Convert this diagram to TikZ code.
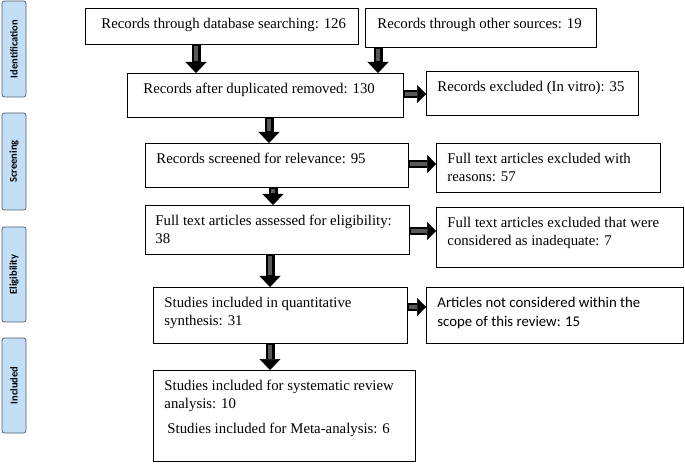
\documentclass[tikz,border=0pt]{standalone}
\usepackage{fontspec}
\setmainfont{Liberation Serif}
\newfontfamily\carl{Carlito}
\usetikzlibrary{arrows.meta}
\definecolor{sidefill}{HTML}{C2DFF7}
\definecolor{sidedraw}{HTML}{55606A}
\newcommand\bxt[4]{\parbox[c][#2bp][t]{#1bp}{\raggedright\leftskip=#3bp\relax\rule{0pt}{20bp}#4}}
\tikzset{
  fbox/.style={draw=black, line width=0.9bp, inner sep=0pt, anchor=north west, fill=white,
    font=\fontsize{14.8bp}{18bp}\selectfont},
  side/.style={draw=sidedraw, fill=sidefill, line width=0.8bp, rounded corners=2.5bp,
    inner sep=0pt, rotate=90, minimum height=24bp,
    font=\carl\bfseries\fontsize{10.5bp}{12bp}\selectfont},
  fatv/.style={line width=9bp, draw=black, -{Triangle[width=21bp,length=11bp,line width=0.5bp]}},
  fath/.style={line width=8bp, draw=black, -{Triangle[width=18bp,length=9bp,line width=0.5bp]}},
  innerv/.style={line width=4.5bp, draw=gray!70!black, shorten >=11.5bp, shorten <=0.8bp},
  innerh/.style={line width=3.5bp, draw=gray!70!black, shorten >=9.5bp, shorten <=0.8bp},
}
\begin{document}
\begin{tikzpicture}[x=1bp,y=-1bp]
\useasboundingbox (0,0) rectangle (685,465);
% side labels
\node[side, minimum width=96bp] (s1) at (14,49) {Identification};
\node[side, minimum width=97bp] (s2) at (14,161.5) {Screening};
\node[side, minimum width=95bp] (s3) at (14,274.5) {Eligibility};
\node[side, minimum width=95bp] (s4) at (14,385.5) {Included};
% boxes
\node[fbox] (b1) at (85,8) {\bxt{273}{36}{16}{Records through database searching: 126}};
\node[fbox] (b2) at (365,8) {\bxt{231}{39}{12}{Records through other sources: 19}};
\node[fbox] (b3) at (127,73) {\bxt{276}{44}{16}{Records after duplicated removed: 130}};
\node[fbox] (b4) at (426,71) {\bxt{212}{44}{11}{Records excluded (In vitro): 35}};
\node[fbox] (b5) at (145,143) {\bxt{263}{44}{11}{Records screened for relevance: 95}};
\node[fbox] (b6) at (436,143) {\bxt{224}{49}{11}{Full text articles excluded with\\reasons: 57}};
\node[fbox] (b7) at (145,205) {\bxt{264}{49}{10}{Full text articles assessed for eligibility:\\38}};
\node[fbox] (b8) at (436,207) {\bxt{247}{60}{11}{Full text articles excluded that were\\considered as inadequate: 7}};
\node[fbox] (b9) at (153,287) {\bxt{254}{56}{11}{Studies included in quantitative\\synthesis: 31}};
\node[fbox, font=\carl\fontsize{14.8bp}{19bp}\selectfont] (b10) at (426,287) {\bxt{257}{56}{11}{Articles not considered within the\\scope of this review: 15}};
\node[fbox] (b11) at (153,370) {\bxt{262}{91}{11}{Studies included for systematic review\\analysis: 10\\[7bp]\hspace*{3bp}Studies included for Meta-analysis: 6}};
% arrow positions
\coordinate (v1) at (196,0);
\coordinate (v2) at (378,0);
\coordinate (v3) at (269,0);
\coordinate (v4) at (273,0);
\coordinate (v5) at (270,0);
\coordinate (v6) at (270,0);
\coordinate (h1) at (0,94);
\coordinate (h2) at (0,164);
\coordinate (h3) at (0,231);
\coordinate (h4) at (0,307);
% vertical arrows
\foreach \a/\b/\v in {b1/b3/v1, b2/b3/v2, b3/b5/v3, b5/b7/v4, b7/b9/v5, b9/b11/v6}{
  \draw[fatv] (\a.south -| \v) -- (\b.north -| \v);
  \draw[innerv] (\a.south -| \v) -- (\b.north -| \v);
}
% horizontal arrows
\foreach \a/\b/\h in {b3/b4/h1, b5/b6/h2, b7/b8/h3, b9/b10/h4}{
  \draw[fath] (\a.east |- \h) -- (\b.west |- \h);
  \draw[innerh] (\a.east |- \h) -- (\b.west |- \h);
}
\end{tikzpicture}
\end{document}
